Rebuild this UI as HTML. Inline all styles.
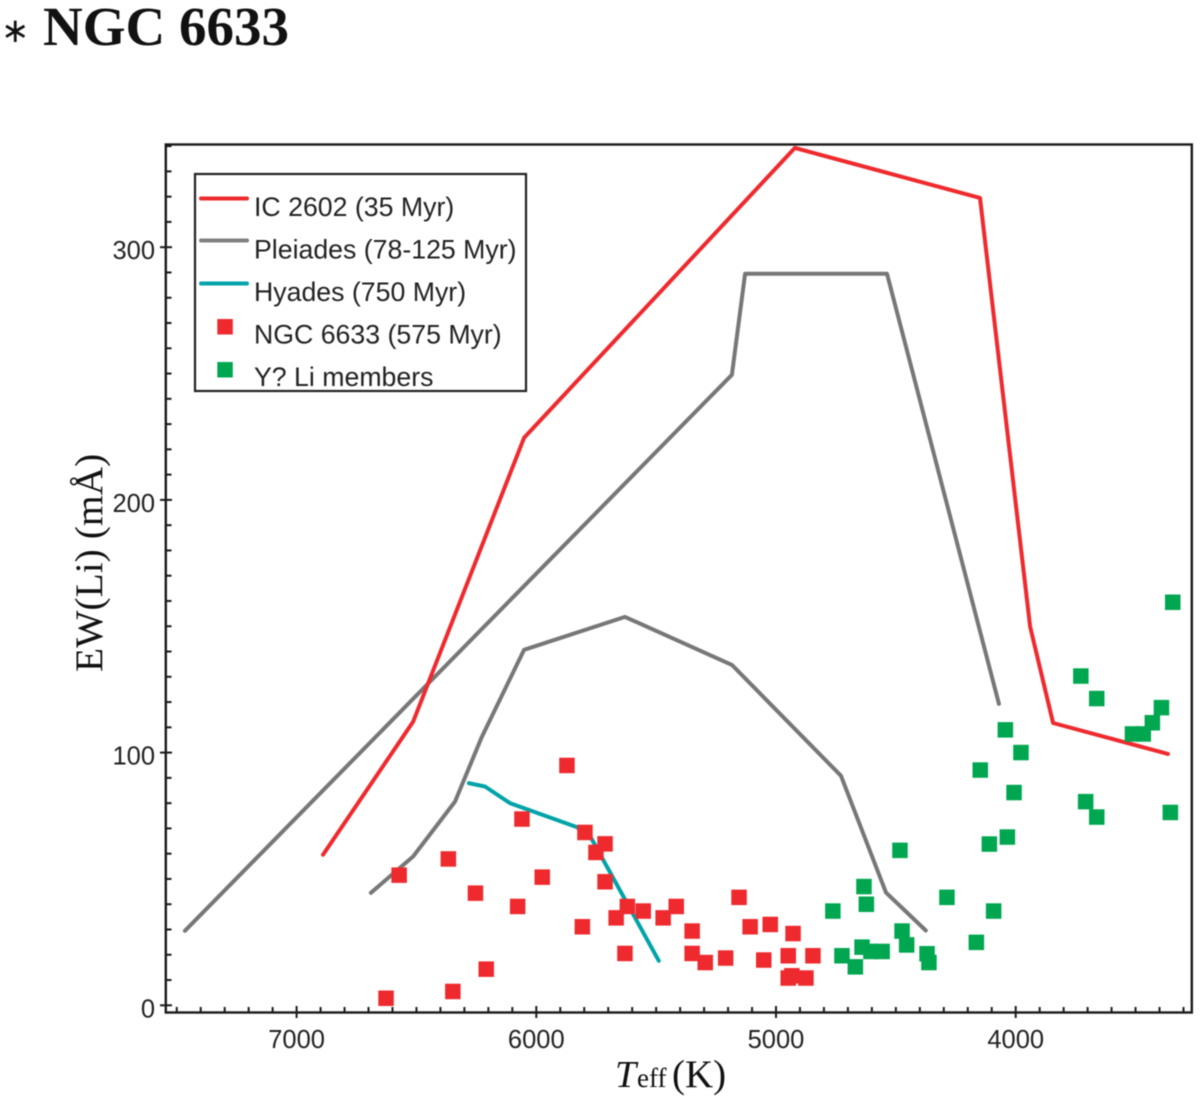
<!DOCTYPE html>
<html lang="en">
<head>
<meta charset="utf-8">
<title>NGC 6633 lithium chart</title>
<style>
html,body{margin:0;padding:0;background:#fff;width:1200px;height:1102px;overflow:hidden}
svg{display:block;position:absolute;left:0;top:0;filter:blur(0.4px)}
.sans{font-family:"Liberation Sans",Arial,sans-serif;fill:#222}
.serif{font-family:"Liberation Serif","Times New Roman",serif;fill:#111}
</style>
</head>
<body>
<svg id="chart" width="1200" height="1102" viewBox="0 0 1200 1102" xmlns="http://www.w3.org/2000/svg">
  <text class="serif" x="1" y="42" font-size="34">∗</text>
  <text class="serif" x="43" y="45" font-size="55" font-weight="bold">NGC 6633</text>
  <g id="lines"></g>
  <g id="points"></g>
  <g id="axes"></g>
  <text class="serif" transform="translate(102,672) rotate(-90)" font-size="39.5">EW(Li) (mÅ)</text>
  <g>
    <text class="serif" x="615" y="1087" font-size="38" font-style="italic">T</text>
    <text class="serif" x="637" y="1087" font-size="27">eff</text>
    <text class="serif" x="672" y="1087" font-size="39">(K)</text>
  </g>
  <g>
    <rect x="195" y="174" width="331" height="217" fill="#fff" stroke="#222" stroke-width="2.2"/>
    <line x1="201" x2="247" y1="198.5" y2="198.5" stroke="#ee2a2e" stroke-width="4" stroke-linecap="round"/>
    <line x1="201" x2="247" y1="240.5" y2="240.5" stroke="#808080" stroke-width="4" stroke-linecap="round"/>
    <line x1="201" x2="247" y1="283.5" y2="283.5" stroke="#00a3a8" stroke-width="4" stroke-linecap="round"/>
    <rect x="217.3" y="319" width="15.5" height="15.5" fill="#ee2a2e"/>
    <rect x="217.3" y="362" width="15.5" height="15.5" fill="#00a650"/>
    <text class="sans" x="254" y="216" font-size="26.7">IC 2602 (35 Myr)</text>
    <text class="sans" x="254" y="258.5" font-size="26.7">Pleiades (78-125 Myr)</text>
    <text class="sans" x="254" y="301" font-size="26.7">Hyades (750 Myr)</text>
    <text class="sans" x="254" y="343.5" font-size="26.7">NGC 6633 (575 Myr)</text>
    <text class="sans" x="254" y="386" font-size="26.7">Y? Li members</text>
  </g>
</svg>
<script>
var xMajorTicks = [7000, 6000, 5000, 4000];
var yMajorTicks = [0, 100, 200, 300];

var ic2602Teff = [6890, 6514, 6051, 4921, 4149, 3940, 3844, 3365];
var ic2602Ew = [59.6, 112.2, 224.6, 339.3, 319.5, 149.9, 111.7, 99.5];

var pleiadesUpperTeff = [7466, 5184, 5129, 4537, 4070];
var pleiadesUpperEw = [29.5, 249.5, 289.5, 289.5, 119.3];

var pleiadesLowerTeff = [6690, 6514, 6339, 6227, 6051, 5630, 5184, 4729, 4541, 4375];
var pleiadesLowerEw = [44.5, 58.9, 80.6, 106.3, 140.7, 153.7, 134.7, 90.8, 44.6, 29.6];

var hyadesTeff = [6281, 6214, 6110, 5831, 5769, 5489];
var hyadesEw = [87.9, 86.6, 80, 70.5, 65.8, 17.6];

var ngcTeff = [5872, 6060, 5797, 5713, 5751, 6367, 6572, 5975, 5713, 6254, 6078, 5620, 5554, 5416, 5667, 5471, 5154, 5808, 5350, 5108, 5024, 4929, 5630, 5350, 5295, 5210, 5051, 4949, 4846, 6209, 4949, 4934, 4875, 6348, 6627];
var ngcEw = [94.9, 73.7, 68.4, 63.9, 60.5, 57.9, 51.5, 50.7, 48.9, 44.4, 39.1, 39.1, 37.3, 39.1, 34.6, 34.6, 42.7, 31.1, 29.4, 31.1, 32, 28.4, 20.5, 20.5, 16.9, 18.7, 17.9, 19.6, 19.6, 14.3, 10.8, 11.7, 10.8, 5.5, 2.8];

var memberTeff = [3345, 3728, 3662, 3392, 3430, 3468, 3513, 4043, 3978, 4148, 4007, 3708, 3662, 3355, 4035, 4110, 4483, 4633, 4623, 4287, 4763, 4092, 4474, 4455, 4641, 4604, 4557, 4164, 4725, 4669, 4370, 4362];
var memberEw = [159.5, 130.3, 121.4, 117.8, 111.8, 107.4, 107.4, 109, 100, 93.1, 84.2, 80.6, 74.5, 76.3, 66.6, 63.8, 61.3, 47, 40, 42.7, 37.3, 37.3, 29.4, 23.9, 23, 21.3, 21.3, 24.9, 19.6, 15.2, 20.4, 16.9];

var NS = 'http://www.w3.org/2000/svg';
function xScale(t) { return 536.3 + (6000 - t) * 0.2397; }
function yScale(v) { return 1005.3 - v * 2.527; }
function make(tag, parent) {
  var el = document.createElementNS(NS, tag);
  parent.appendChild(el);
  return el;
}
function lineTo(parent, x1, y1, x2, y2, width, color) {
  var el = make('line', parent);
  el.setAttribute('x1', x1);
  el.setAttribute('y1', y1);
  el.setAttribute('x2', x2);
  el.setAttribute('y2', y2);
  el.setAttribute('stroke', color);
  el.setAttribute('stroke-width', width);
  return el;
}
function seriesPath(parent, teff, ew, color) {
  var el = make('polyline', parent);
  var pts = teff.map(function (t, i) { return xScale(t).toFixed(1) + ',' + yScale(ew[i]).toFixed(1); });
  el.setAttribute('points', pts.join(' '));
  el.setAttribute('fill', 'none');
  el.setAttribute('stroke', color);
  el.setAttribute('stroke-width', '4');
  el.setAttribute('stroke-linecap', 'round');
  el.setAttribute('stroke-linejoin', 'round');
  return el;
}
function square(parent, t, v, color) {
  var el = make('rect', parent);
  el.setAttribute('x', (xScale(t) - 7.75).toFixed(1));
  el.setAttribute('y', (yScale(v) - 7.75).toFixed(1));
  el.setAttribute('width', '15.5');
  el.setAttribute('height', '15.5');
  el.setAttribute('fill', color);
  return el;
}

var linesG = document.getElementById('lines');
var pointsG = document.getElementById('points');
var axesG = document.getElementById('axes');
var l;

l = seriesPath(linesG, pleiadesUpperTeff, pleiadesUpperEw, '#777777');


l = seriesPath(linesG, pleiadesLowerTeff, pleiadesLowerEw, '#777777');


l = seriesPath(linesG, ic2602Teff, ic2602Ew, '#ee2a2e');


l = seriesPath(linesG, hyadesTeff, hyadesEw, '#00a3a8');



ngcTeff.forEach(function (t, i) {
  var p = square(pointsG, t, ngcEw[i], '#ee2a2e');
  
  
});
memberTeff.forEach(function (t, i) {
  var p = square(pointsG, t, memberEw[i], '#00a650');
  
  
});

var frame = make('rect', axesG);
frame.setAttribute('x', '165.8');
frame.setAttribute('y', '144.5');
frame.setAttribute('width', '1026');
frame.setAttribute('height', '868');
frame.setAttribute('fill', 'none');
frame.setAttribute('stroke', '#1a1a1a');
frame.setAttribute('stroke-width', '2.4');



for (var t = 7500; t >= 3300; t -= 100) {
  var isMajorX = xMajorTicks.indexOf(t) >= 0;
  var tx = lineTo(axesG, xScale(t), isMajorX ? 1018 : 1012.5, xScale(t), isMajorX ? 1006 : 1007, 2, '#1a1a1a');
  
  
}
for (var v = 0; v <= 340; v += 10) {
  var isMajorY = yMajorTicks.indexOf(v) >= 0;
  var ty = lineTo(axesG, isMajorY ? 160 : 165.8, yScale(v), isMajorY ? 172 : 171.5, yScale(v), 2, '#1a1a1a');
  
  
}
xMajorTicks.forEach(function (t) {
  var lab = make('text', axesG);
  lab.setAttribute('class', 'sans');
  lab.setAttribute('x', xScale(t));
  lab.setAttribute('y', '1048');
  lab.setAttribute('font-size', '25.5');
  lab.setAttribute('text-anchor', 'middle');
  
  
  lab.textContent = String(t);
});
yMajorTicks.forEach(function (v) {
  var lab = make('text', axesG);
  lab.setAttribute('class', 'sans');
  lab.setAttribute('x', '155');
  lab.setAttribute('y', yScale(v) + 12);
  lab.setAttribute('font-size', '25.5');
  lab.setAttribute('text-anchor', 'end');
  
  
  lab.textContent = String(v);
});
</script>
</body>
</html>
